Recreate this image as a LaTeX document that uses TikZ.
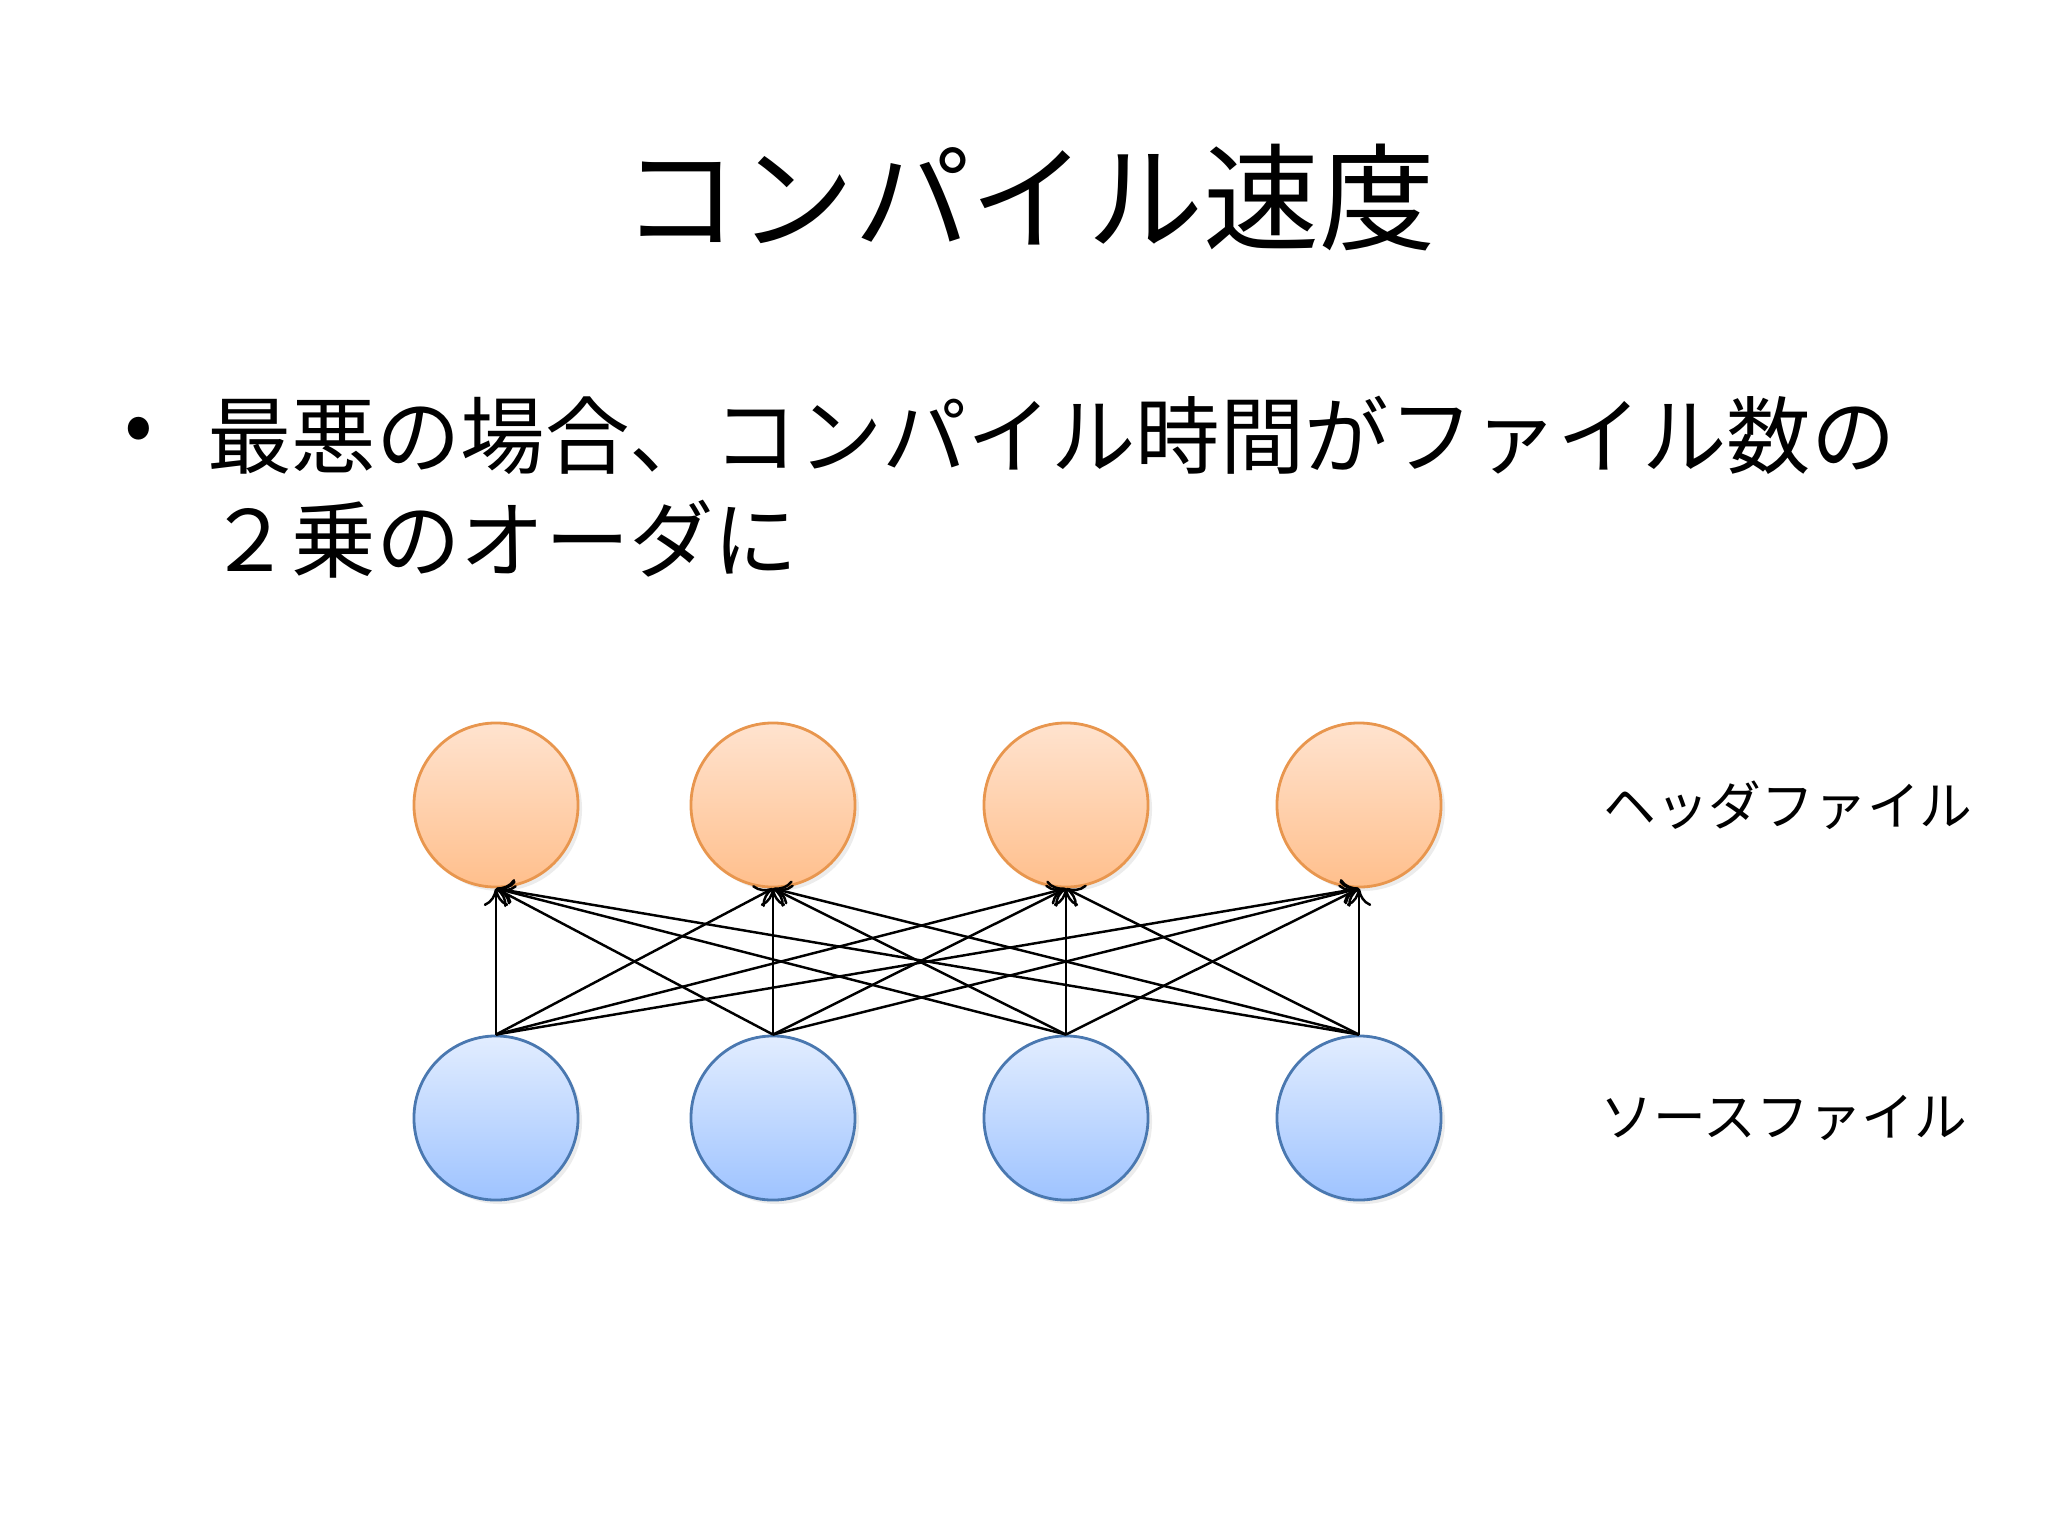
\documentclass[tikz,border=0pt]{standalone}
\usepackage{fontspec}
\setmainfont{Noto Sans CJK JP}
\usetikzlibrary{arrows.meta,shadows}
\definecolor{ortop}{HTML}{FFE3CF}
\definecolor{orbot}{HTML}{FFBF8C}
\definecolor{orline}{HTML}{E8964E}
\definecolor{bltop}{HTML}{E2EDFF}
\definecolor{blbot}{HTML}{9EC3FF}
\definecolor{blline}{HTML}{4A78B0}
\tikzset{
  hdr/.style={circle,minimum size=1.64cm,draw=orline,line width=0.8pt,top color=ortop,bottom color=orbot,drop shadow={opacity=0.15,shadow xshift=0.04cm,shadow yshift=-0.04cm}},
  src/.style={circle,minimum size=1.64cm,draw=blline,line width=0.8pt,top color=bltop,bottom color=blbot,drop shadow={opacity=0.15,shadow xshift=0.04cm,shadow yshift=-0.04cm}},
  dep/.style={-{To[length=5pt,width=7pt]},line width=0.7pt},
  lbl/.style={font=\fontsize{15}{18}\selectfont,anchor=center}
}
\begin{document}
\begin{tikzpicture}[x=0.01cm,y=-0.01cm]
\useasboundingbox (0,0) rectangle (2048,1536);
\node (title) at (1029,198) {\fontsize{33}{40}\selectfont コンパイル速度};
\node (bul) at (139,435) {\fontsize{24}{30}\selectfont •};
\node[anchor=west] (l1) at (195,435) {\fontsize{24}{30}\selectfont 最悪の場合、コンパイル時間がファイル数の};
\node[anchor=west] (l2) at (195,539) {\fontsize{24}{30}\selectfont ２乗のオーダに};
\foreach \i/\x in {1/496,2/773,3/1066,4/1359}{
  \node[hdr] (h\i) at (\x,805) {};
  \node[src] (s\i) at (\x,1118) {};
}
\foreach \i in {1,...,4}{
  \foreach \j in {1,...,4}{
    \draw[dep] (s\i.north) -- (h\j.south);
  }
}
\node[lbl] (hl) at (1788,805) {ヘッダファイル};
\node[lbl] (sl) at (1784,1118) {ソースファイル};
\end{tikzpicture}
\end{document}
